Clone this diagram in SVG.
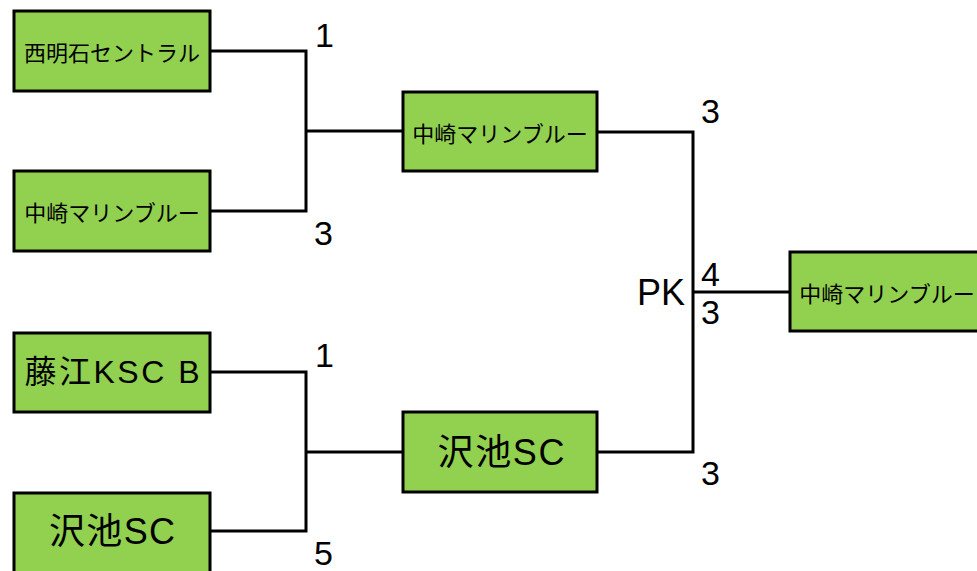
<svg xmlns="http://www.w3.org/2000/svg" width="977" height="571" viewBox="0 0 977 571">
<style>
.box{fill:#92D050;stroke:#000;stroke-width:3}
.t{font-family:"Noto Sans CJK JP","Liberation Sans",sans-serif;text-anchor:middle;dominant-baseline:central;fill:#000}
.t2{font-family:"Liberation Sans","Noto Sans CJK JP",sans-serif;text-anchor:middle;dominant-baseline:central;fill:#000}
.s{font-size:22px}
.m{font-size:32px}
.l{font-size:36px}
.n{font-family:"Liberation Sans",Arial,sans-serif;font-size:34px;fill:#000}
.c{fill:none;stroke:#000;stroke-width:3}
</style>
<rect width="977" height="571" fill="#fff"/>
<g id="connectors">
<polyline class="c" points="210,51 306,51 306,211 210,211"/>
<line class="c" x1="306" y1="131" x2="403" y2="131"/>
<polyline class="c" points="210,372 306,372 306,531 210,531"/>
<line class="c" x1="306" y1="452" x2="403" y2="452"/>
<polyline class="c" points="597,132 693,132 693,452 597,452"/>
<line class="c" x1="693" y1="292" x2="790" y2="292"/>
</g>
<g id="team1"><rect class="box" x="14" y="11" width="196" height="80"/><text class="t s" x="112" y="51">西明石セントラル</text></g>
<g id="team2"><rect class="box" x="14" y="171" width="196" height="80"/><text class="t s" x="112" y="211">中崎マリンブルー</text></g>
<g id="team3"><rect class="box" x="14" y="333" width="196" height="79"/><text class="t2 m" x="112" y="372" textLength="175" lengthAdjust="spacing">藤江KSC B</text></g>
<g id="team4"><rect class="box" x="14" y="493" width="196" height="90"/><text class="t2 l" x="112" y="531" textLength="126" lengthAdjust="spacing">沢池SC</text></g>
<g id="semi1"><rect class="box" x="403" y="92" width="194" height="79"/><text class="t s" x="500" y="132">中崎マリンブルー</text></g>
<g id="semi2"><rect class="box" x="403" y="412" width="194" height="80"/><text class="t2 l" x="501" y="452" textLength="127" lengthAdjust="spacing">沢池SC</text></g>
<g id="final"><rect class="box" x="790" y="252" width="196" height="79"/><text class="t s" x="887" y="292">中崎マリンブルー</text></g>
<g id="scores">
<text class="n" x="315" y="47">1</text>
<text class="n" x="314" y="245">3</text>
<text class="n" x="315" y="367">1</text>
<text class="n" x="314" y="565">5</text>
<text class="n" x="701" y="123">3</text>
<text class="n" x="701" y="286">4</text>
<text class="n" x="701" y="324">3</text>
<text class="n" x="701" y="485">3</text>
<text class="n" x="637" y="305" style="font-size:36px">PK</text>
</g>
</svg>
